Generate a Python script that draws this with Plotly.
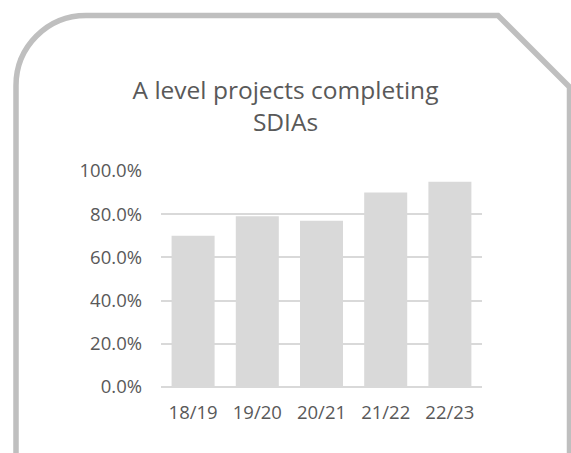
import plotly.graph_objects as go

categories = ["18/19", "19/20", "20/21", "21/22", "22/23"]
values = [0.70, 0.79, 0.77, 0.90, 0.95]
title_lines = ["A level projects completing", "SDIAs"]

W, H = 571, 453
L, R, T, B = 161, 89, 171, 66
PW, PH = W - L - R, H - T - B

def px(x):
    return (x - L) / PW

def py(y):
    return (H - B - y) / PH

fig = go.Figure(go.Bar(x=categories, y=values, marker=dict(color="#D9D9D9", line=dict(width=0)),
                       hoverinfo="x+y"))

# decorative frame (rounded top-left, chamfered top-right)
r = 70
k = 0.5523 * r
lx, ty, rx, cx = 16, 15.5, 569.5, 498
path = (f"M {px(lx)},{py(470)} L {px(lx)},{py(ty + r)} "
        f"C {px(lx)},{py(ty + r - k)} {px(lx + r - k)},{py(ty)} {px(lx + r)},{py(ty)} "
        f"L {px(cx)},{py(ty)} L {px(rx)},{py(ty + (rx - cx))} L {px(rx)},{py(470)}")
fig.add_shape(type="path", xref="paper", yref="paper", path=path,
              line=dict(color="#BFBFBF", width=5.5), layer="above")

font = "Open Sans"
fig.update_layout(
    width=W, height=H,
    margin=dict(l=L, r=R, t=T, b=B),
    paper_bgcolor="white", plot_bgcolor="white",
    bargap=0.33,
    showlegend=False,
    title=dict(text="<br>".join(title_lines), x=0.5, xref="container", xanchor="center",
               y=1 - 99 / H, yref="container", yanchor="middle",
               font=dict(family=font, size=24.5, color="#595959")),
    xaxis=dict(showgrid=False, showline=False, zeroline=False, ticks="",
               tickfont=dict(family=font, size=18.5, color="#595959"),
               ticklabelstandoff=12),
    yaxis=dict(range=[0, 1], dtick=0.2, tickformat=".1%", showgrid=True,
               gridcolor="#D9D9D9", gridwidth=1.5, zeroline=True, zerolinecolor="#D9D9D9",
               zerolinewidth=1.5, showline=False, ticks="",
               tickfont=dict(family=font, size=18.5, color="#595959"),
               ticklabelstandoff=18),
)

fig.write_html("out.html", config={"displayModeBar": False},
               post_script="document.body.style.margin='0';")
